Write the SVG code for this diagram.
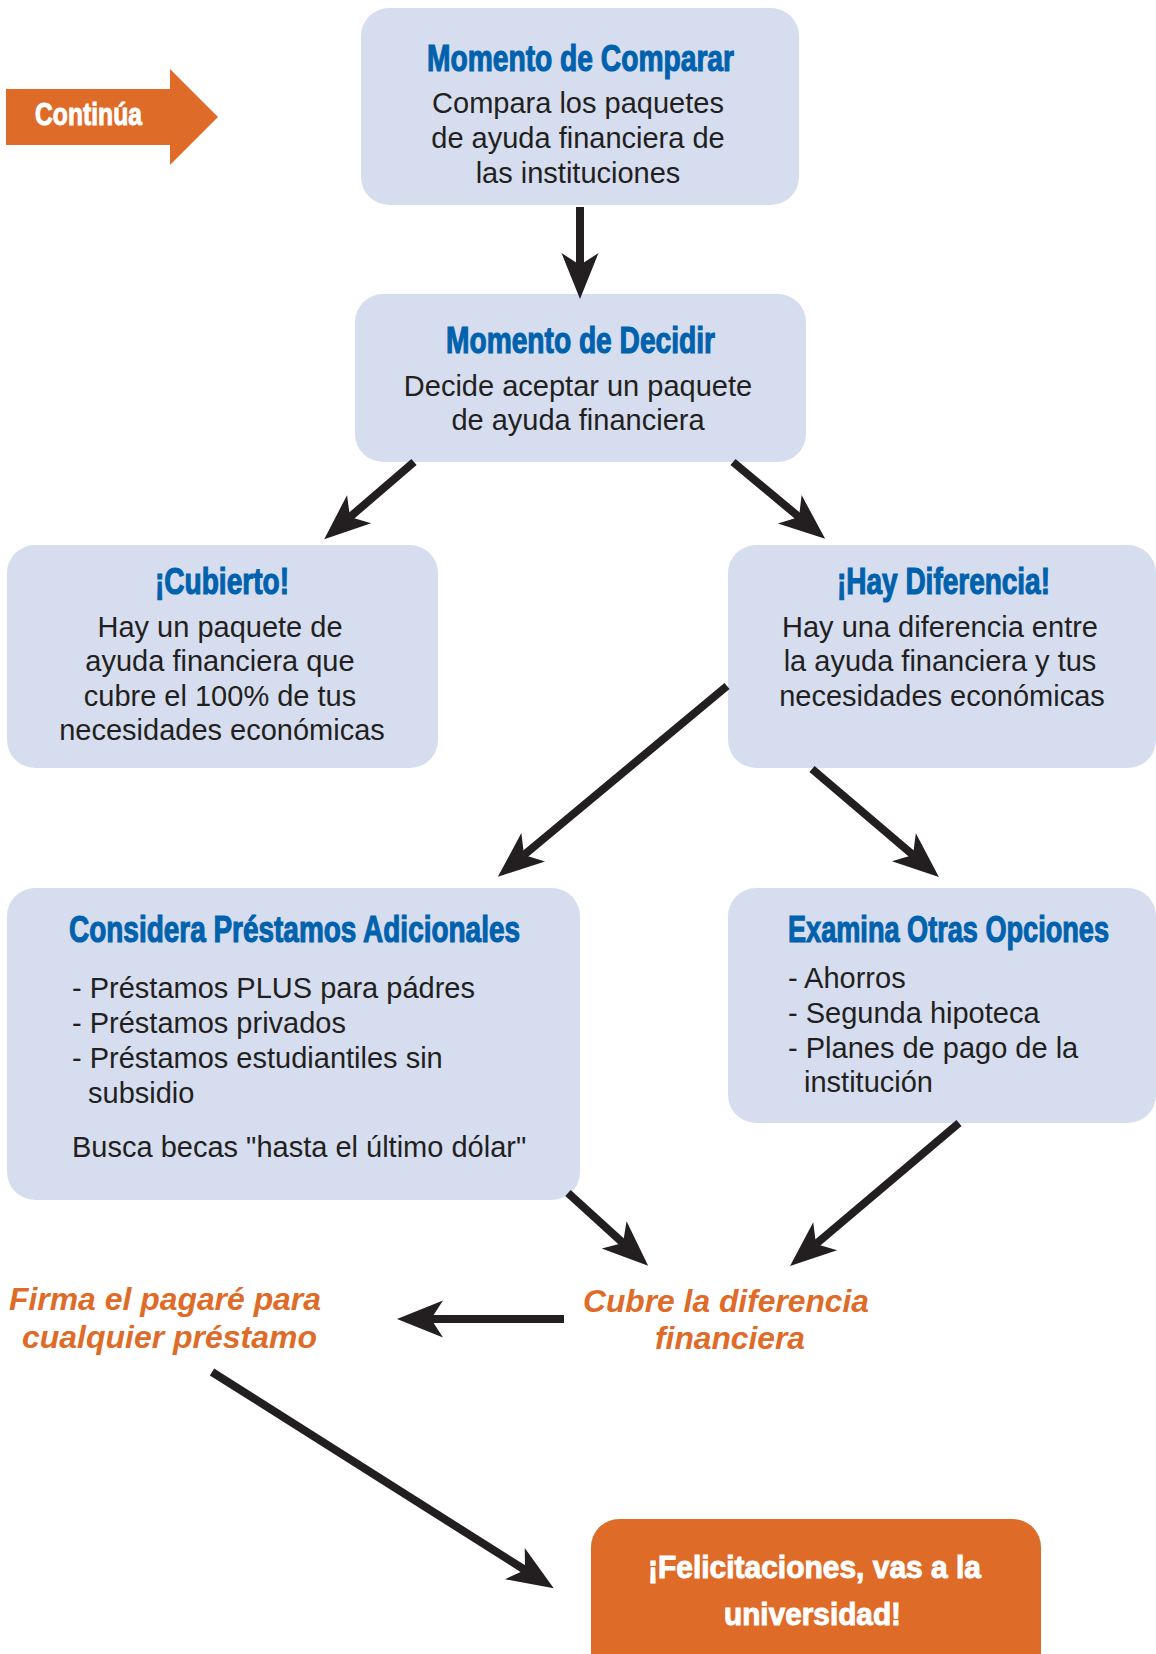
<svg xmlns="http://www.w3.org/2000/svg" width="1156" height="1654" viewBox="0 0 1156 1654">
<defs>
<style>
.box{fill:#d5ddef}
.ttl{font-family:"Liberation Sans Narrow","Liberation Sans",Arial,sans-serif;font-weight:bold;font-size:36px;fill:#0061ad;stroke:#0061ad;stroke-width:1.1}
.body{font-family:"Liberation Sans",Arial,sans-serif;font-size:29px;fill:#231f20}
.c{text-anchor:middle}
.org{font-family:"Liberation Sans Narrow","Liberation Sans",Arial,sans-serif;font-weight:bold;font-style:italic;font-size:31px;fill:#df6b28}
.wt{font-family:"Liberation Sans Narrow","Liberation Sans",Arial,sans-serif;font-weight:bold;font-size:32px;fill:#ffffff;stroke:#ffffff;stroke-width:1}
.conn line{stroke:#231f20;stroke-width:8;marker-end:url(#ah)}
</style>
<marker id="ah" markerUnits="userSpaceOnUse" markerWidth="60" markerHeight="44" viewBox="-14 -22 52 44" refX="0" refY="0" orient="auto">
<path d="M34,0 L-12,-18.5 L0,0 L-12,18.5 Z" fill="#231f20"/>
</marker>
</defs>
<rect width="1156" height="1654" fill="#ffffff"/>

<g id="continua">
<polygon points="6,89 170,89 170,69 218,117 170,165 170,145 6,145" fill="#df6b28"/>
<text class="wt" x="35" y="125" font-size="31" textLength="107" lengthAdjust="spacingAndGlyphs">Continúa</text>
</g>

<g id="comparar">
<rect class="box" x="361" y="8" width="438" height="197" rx="28"/>
<text class="ttl" x="427" y="71" textLength="307" lengthAdjust="spacingAndGlyphs">Momento de Comparar</text>
<text class="body c" x="578" y="113">Compara los paquetes</text>
<text class="body c" x="578" y="148">de ayuda financiera de</text>
<text class="body c" x="578" y="183">las instituciones</text>
</g>

<g id="decidir">
<rect class="box" x="355" y="294" width="451" height="168" rx="28"/>
<text class="ttl" x="446" y="353" textLength="269" lengthAdjust="spacingAndGlyphs">Momento de Decidir</text>
<text class="body c" x="578" y="396">Decide aceptar un paquete</text>
<text class="body c" x="578" y="430">de ayuda financiera</text>
</g>

<g id="cubierto">
<rect class="box" x="7" y="545" width="431" height="223" rx="28"/>
<text class="ttl" x="155" y="594" textLength="134" lengthAdjust="spacingAndGlyphs">¡Cubierto!</text>
<text class="body c" x="220" y="637">Hay un paquete de</text>
<text class="body c" x="220" y="671">ayuda financiera que</text>
<text class="body c" x="220" y="706">cubre el 100% de tus</text>
<text class="body c" x="222" y="740">necesidades económicas</text>
</g>

<g id="diferencia">
<rect class="box" x="728" y="545" width="428" height="223" rx="28"/>
<text class="ttl" x="837" y="594" textLength="213" lengthAdjust="spacingAndGlyphs">¡Hay Diferencia!</text>
<text class="body c" x="940" y="637">Hay una diferencia entre</text>
<text class="body c" x="940" y="671">la ayuda financiera y tus</text>
<text class="body c" x="942" y="706">necesidades económicas</text>
</g>

<g id="prestamos">
<rect class="box" x="7" y="888" width="573" height="312" rx="28"/>
<text class="ttl" x="69" y="942" textLength="451" lengthAdjust="spacingAndGlyphs">Considera Préstamos Adicionales</text>
<text class="body" x="72" y="998">- Préstamos PLUS para pádres</text>
<text class="body" x="72" y="1033">- Préstamos privados</text>
<text class="body" x="72" y="1068">- Préstamos estudiantiles sin</text>
<text class="body" x="88" y="1103">subsidio</text>
<text class="body" x="72" y="1157">Busca becas "hasta el último dólar"</text>
</g>

<g id="opciones">
<rect class="box" x="728" y="888" width="428" height="235" rx="28"/>
<text class="ttl" x="788" y="942" textLength="321" lengthAdjust="spacingAndGlyphs">Examina Otras Opciones</text>
<text class="body" x="788" y="988">- Ahorros</text>
<text class="body" x="788" y="1023">- Segunda hipoteca</text>
<text class="body" x="788" y="1058">- Planes de pago de la</text>
<text class="body" x="804" y="1092">institución</text>
</g>

<g id="firma">
<text class="org" x="9" y="1310" textLength="312" lengthAdjust="spacingAndGlyphs">Firma el pagaré para</text>
<text class="org" x="22" y="1348" textLength="295" lengthAdjust="spacingAndGlyphs">cualquier préstamo</text>
</g>

<g id="cubre">
<text class="org" x="583" y="1312" textLength="286" lengthAdjust="spacingAndGlyphs">Cubre la diferencia</text>
<text class="org" x="655" y="1349" textLength="150" lengthAdjust="spacingAndGlyphs">financiera</text>
</g>

<g id="felicitaciones">
<rect x="591" y="1519" width="450" height="170" rx="28" fill="#df6b28"/>
<text class="wt" x="648" y="1578" textLength="333" lengthAdjust="spacingAndGlyphs">¡Felicitaciones, vas a la</text>
<text class="wt" x="724" y="1625" textLength="177" lengthAdjust="spacingAndGlyphs">universidad!</text>
</g>

<g id="connectors" class="conn">
<line x1="580" y1="207" x2="580" y2="265"/>
<line x1="414" y1="462" x2="350" y2="517"/>
<line x1="733" y1="462" x2="799" y2="517"/>
<line x1="727" y1="686" x2="524" y2="855"/>
<line x1="812" y1="769" x2="913" y2="855"/>
<line x1="568" y1="1193" x2="623" y2="1243"/>
<line x1="959" y1="1123" x2="816" y2="1244"/>
<line x1="564" y1="1319" x2="431" y2="1319"/>
<line x1="212" y1="1372" x2="525" y2="1570"/>
</g>
</svg>
